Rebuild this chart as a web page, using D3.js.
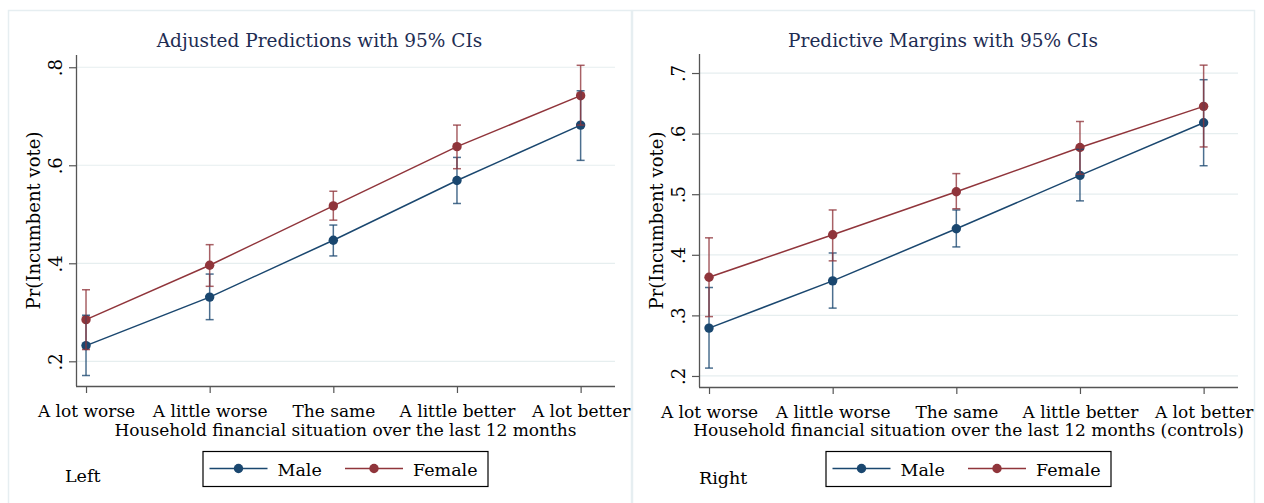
<!DOCTYPE html>
<html>
<head>
<meta charset="utf-8">
<script src="https://cdn.jsdelivr.net/npm/d3@7"></script>
<style>
  body { margin: 0; background: #fff; }
  text { font-family: "DejaVu Serif", serif; }
</style>
</head>
<body>
<div id="chart"></div>
<script>
//categories shared by both panels
const categories = ["A lot worse", "A little worse", "The same", "A little better", "A lot better"];
const seriesNames = ["Male", "Female"];

//left panel: adjusted predictions
const leftMale = [0.232, 0.331, 0.447, 0.569, 0.682];
const leftMaleLo = [0.171, 0.285, 0.415, 0.522, 0.610];
const leftMaleHi = [0.294, 0.378, 0.478, 0.616, 0.752];
const leftFemale = [0.285, 0.396, 0.517, 0.638, 0.742];
const leftFemaleLo = [0.224, 0.353, 0.488, 0.593, 0.682];
const leftFemaleHi = [0.346, 0.438, 0.547, 0.682, 0.804];
const leftTicks = [0.2, 0.4, 0.6, 0.8];

//right panel: predictive margins
const rightMale = [0.279, 0.357, 0.443, 0.531, 0.618];
const rightMaleLo = [0.213, 0.312, 0.413, 0.489, 0.547];
const rightMaleHi = [0.346, 0.403, 0.474, 0.574, 0.689];
const rightFemale = [0.363, 0.433, 0.504, 0.577, 0.645];
const rightFemaleLo = [0.298, 0.390, 0.476, 0.533, 0.578];
const rightFemaleHi = [0.428, 0.474, 0.534, 0.620, 0.713];
const rightTicks = [0.2, 0.3, 0.4, 0.5, 0.6, 0.7];

const colors = ["#1a476f", "#90353b"];
const width = 1264, height = 503;

const svg = d3.select("#chart").append("svg")
  .attr("width", width).attr("height", height);

const fmt = (v) => d3.format(".1f")(v).replace(/^0/, "");

function drawPanel(opt) {
  const g = svg.append("g");

  //outer frame of the graph region
  g.append("rect")
    .attr("x", opt.frameX + 0.5).attr("y", 10.5)
    .attr("width", opt.frameW).attr("height", 510)
    .attr("fill", "none").attr("stroke", "#e6eef1").attr("stroke-width", 1.5);

  const x = d3.scaleLinear().domain([-0.081, 4.278]).range([opt.left, opt.right]);
  const y = d3.scaleLinear().domain(opt.yDomain).range([opt.bottom, opt.top]);

  //title
  g.append("text")
    .attr("x", opt.frameX + opt.frameW / 2).attr("y", 47)
    .attr("text-anchor", "middle")
    .attr("fill", "#1e2d53").attr("font-size", 18.5)
    .text(opt.title);

  //gridlines
  g.selectAll(".grid").data(opt.ticks).enter().append("line")
    .attr("x1", opt.left).attr("x2", opt.right)
    .attr("y1", (d) => y(d)).attr("y2", (d) => y(d))
    .attr("stroke", "#e6eeef").attr("stroke-width", 1.2);

  //y axis
  const yAxis = g.append("g")
    .attr("transform", `translate(${opt.left},0)`)
    .call(d3.axisLeft(y).tickValues(opt.ticks).tickFormat(fmt).tickSize(7).tickPadding(5));
  yAxis.select(".domain").attr("stroke", "#555").attr("stroke-width", 1.3)
    .attr("d", `M0.5,${opt.bottom}V${opt.top}`);
  yAxis.selectAll(".tick line").attr("stroke", "#555").attr("stroke-width", 1.2);
  yAxis.selectAll(".tick text")
    .attr("font-size", 18).attr("fill", "#000")
    .attr("font-family", "DejaVu Serif")
    .attr("text-anchor", "middle")
    .attr("x", null).attr("dy", null)
    .attr("transform", "translate(-14,0) rotate(-90)");

  //x axis
  const xAxis = g.append("g")
    .attr("transform", `translate(0,${opt.bottom})`)
    .call(d3.axisBottom(x).tickValues(d3.range(categories.length))
      .tickFormat((i) => categories[i]).tickSize(7).tickPadding(12));
  xAxis.select(".domain").attr("stroke", "#555").attr("stroke-width", 1.3)
    .attr("d", `M${opt.left},0.5H${opt.right}`);
  xAxis.selectAll(".tick line").attr("stroke", "#555").attr("stroke-width", 1.2);
  xAxis.selectAll(".tick text")
    .attr("font-size", 17).attr("fill", "#000").attr("font-family", "DejaVu Serif");

  //axis titles
  g.append("text")
    .attr("transform", `translate(${opt.left - 36},${(opt.top + opt.bottom) / 2}) rotate(-90)`)
    .attr("text-anchor", "middle").attr("font-size", 18)
    .text("Pr(Incumbent vote)");
  g.append("text")
    .attr("x", (opt.left + opt.right) / 2).attr("y", 436)
    .attr("text-anchor", "middle").attr("font-size", 17)
    .text(opt.xTitle);

  //series: lines and markers
  opt.series.forEach((s, k) => {
    const line = d3.line().x((d, i) => x(i)).y((d) => y(d));
    g.append("path").attr("d", line(s.values))
      .attr("fill", "none").attr("stroke", colors[k]).attr("stroke-width", 1.5);
    g.selectAll(null).data(s.values).enter().append("circle")
      .attr("cx", (d, i) => x(i)).attr("cy", (d) => y(d))
      .attr("r", 4.7).attr("fill", colors[k]);
  });
  //confidence interval caps
  opt.series.forEach((s, k) => {
    const ci = g.append("g").attr("stroke", colors[k]).attr("stroke-width", 1.5)
      .attr("stroke-opacity", 0.78);
    s.values.forEach((v, i) => {
      const cx = x(i);
      ci.append("line").attr("x1", cx).attr("x2", cx)
        .attr("y1", y(s.lo[i])).attr("y2", y(s.hi[i]));
      ci.append("line").attr("x1", cx - 4).attr("x2", cx + 4)
        .attr("y1", y(s.lo[i])).attr("y2", y(s.lo[i]));
      ci.append("line").attr("x1", cx - 4).attr("x2", cx + 4)
        .attr("y1", y(s.hi[i])).attr("y2", y(s.hi[i]));
    });
  });

  //legend
  const lx = (opt.left + opt.right) / 2 - 143;
  const legend = g.append("g").attr("transform", `translate(${lx},451)`);
  legend.append("rect").attr("x", 0.5).attr("y", 0.5)
    .attr("width", 285).attr("height", 35)
    .attr("fill", "#fff").attr("stroke", "#000").attr("stroke-width", 1.2);
  const offsets = [7, 142.5];
  seriesNames.forEach((name, k) => {
    const ox = offsets[k];
    legend.append("line").attr("x1", ox).attr("x2", ox + 58)
      .attr("y1", 17.5).attr("y2", 17.5)
      .attr("stroke", colors[k]).attr("stroke-width", 1.5);
    legend.append("circle").attr("cx", ox + 29).attr("cy", 17.5).attr("r", 4.7)
      .attr("fill", colors[k]);
    legend.append("text").attr("x", ox + 68).attr("y", 24.5)
      .attr("font-size", 17.5).text(name);
  });

  //note
  g.append("text").attr("x", opt.noteX).attr("y", opt.noteY)
    .attr("font-size", 17.5).text(opt.note);
}

drawPanel({
  frameX: 8, frameW: 623,
  left: 76, right: 615, top: 55, bottom: 386,
  yDomain: [0.1496, 0.825], ticks: leftTicks,
  title: "Adjusted Predictions with 95% CIs",
  xTitle: "Household financial situation over the last 12 months",
  series: [
    { values: leftMale, lo: leftMaleLo, hi: leftMaleHi },
    { values: leftFemale, lo: leftFemaleLo, hi: leftFemaleHi }
  ],
  note: "Left", noteX: 65, noteY: 482
});

drawPanel({
  frameX: 632, frameW: 622,
  left: 699, right: 1238, top: 54, bottom: 387,
  yDomain: [0.1818, 0.7314], ticks: rightTicks,
  title: "Predictive Margins with 95% CIs",
  xTitle: "Household financial situation over the last 12 months (controls)",
  series: [
    { values: rightMale, lo: rightMaleLo, hi: rightMaleHi },
    { values: rightFemale, lo: rightFemaleLo, hi: rightFemaleHi }
  ],
  note: "Right", noteX: 699, noteY: 484
});
</script>
</body>
</html>
